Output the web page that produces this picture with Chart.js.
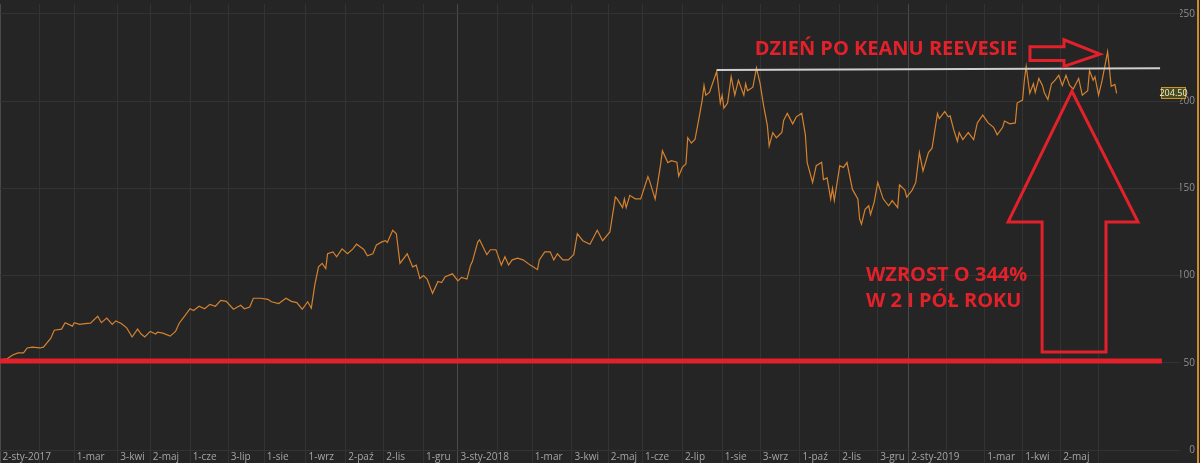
<!DOCTYPE html>
<html>
<head>
<meta charset="utf-8">
<title>CD Projekt</title>
<script src="https://cdn.jsdelivr.net/npm/chart.js@4.4.1/dist/chart.umd.min.js"></script>
<style>
  html, body { margin: 0; padding: 0; background: #252525; }
  #wrap { width: 1200px; height: 463px; position: relative; }
</style>
</head>
<body>
<div id="wrap"><canvas id="price"></canvas></div>
<script>
// trading day (index from 2-sty-2017) and close price
const days = [
  0, 4, 7, 10, 13, 15, 18, 22, 24, 28, 30, 34, 36, 38, 40, 41, 44, 47, 50, 54,
  56, 59, 62, 64, 67, 70, 73, 76, 78, 80, 83, 86, 87, 90, 94, 97, 99, 102, 105, 107,
  110, 113, 116, 119, 122, 125, 129, 133, 135, 138, 140, 144, 148, 150, 154, 158, 161, 164, 167, 170,
  172, 174, 176, 178, 180, 181, 184, 186, 189, 192, 195, 197, 199, 201, 203, 206, 208, 211, 213, 214,
  217, 219, 221, 225, 228, 230, 232, 234, 236, 239, 242, 244, 246, 250, 253, 255, 258, 260, 261, 264,
  265, 269, 271, 274, 275, 277, 279, 281, 283, 286, 289, 293, 297, 298, 301, 304, 306, 308, 311, 314,
  317, 319, 322, 326, 330, 333, 337, 340, 341, 344, 345, 346, 348, 351, 354, 358, 359, 362, 365, 366,
  369, 371, 374, 375, 377, 379, 380, 382, 384, 386, 388, 389, 390, 392, 394, 396, 398, 399, 400, 402,
  404, 406, 408, 411, 412, 413, 416, 418, 420, 422, 424, 425, 427, 429, 432, 433, 435, 438, 440, 443,
  445, 446, 449, 451, 454, 455, 457, 459, 460, 461, 464, 466, 468, 471, 474, 475, 476, 478, 480, 481,
  483, 485, 488, 491, 493, 496, 497, 500, 501, 504, 506, 508, 510, 513, 515, 518, 519, 522, 524, 525,
  527, 529, 530, 532, 535, 538, 540, 543, 546, 549, 551, 554, 555, 558, 561, 562, 565, 566, 567, 569,
  571, 572, 574, 576, 577, 579, 581, 583, 585, 587, 589, 591, 593, 596, 598, 601, 602, 604, 605, 607,
  609, 612, 614, 616, 617
];
const price = [
  51.7, 52.3, 54.5, 55.7, 55.7, 58.5, 59, 58.5, 59, 64, 68.7, 69.3, 73, 72, 71, 73, 72, 72.5, 72.7, 76.7,
  73, 75.6, 72, 74, 72.5, 70, 64.8, 69.3, 66.5, 64.8, 68, 66.5, 67.5, 67, 65.3, 68, 72.7, 76.7, 81, 80,
  82.4, 81, 83.5, 82.4, 85.8, 85.2, 80.7, 83, 81, 82, 87, 87, 86.4, 85, 84, 87, 85.2, 84.5, 80.7, 85,
  81.3, 95, 105, 107, 104, 112.5, 113.6, 110.8, 115.3, 112.5, 115.3, 118, 116.5, 115, 111.4, 112.5, 117.6, 119.3, 120, 119,
  126, 124, 107, 112.5, 105, 106, 98.3, 100, 98, 89.8, 96.6, 96, 99.4, 101, 97, 99, 98, 106, 108, 119.3,
  120.5, 112, 114.8, 114.8, 112, 106, 110.8, 106, 109, 110, 109, 106, 103.4, 109, 113.6, 113.6, 109, 112.5, 109, 109,
  112, 124, 120, 118, 126, 120, 125, 145, 144, 139, 144, 139, 146, 144, 144, 156.8, 154, 143.8, 163.6, 171.6,
  164.8, 165.9, 165, 157, 162, 164, 179, 176, 178, 189, 200.6, 209, 203.4, 205, 211, 217, 198.9, 203.4, 196, 198.9,
  214, 203.4, 212, 203.4, 210, 206, 208, 219, 210, 197, 186, 174.4, 182, 179, 182, 189, 193, 187, 191, 193,
  180.7, 164.8, 153.4, 163, 165, 155, 156, 143.8, 150, 143, 163, 162, 164.8, 149.4, 144, 132.4, 129.5, 138, 140, 135,
  142, 153.4, 144, 140, 143, 139, 152, 149, 145, 149, 153.4, 170.5, 160, 170.5, 173, 193, 190, 194, 191, 191.5,
  183.5, 177, 182, 178, 182, 178, 187.5, 192, 187.5, 185, 180.7, 185, 188.6, 187, 187.5, 198.9, 200.6, 212, 220, 204.5,
  210, 205, 213, 209, 205, 201, 210, 212, 214.8, 209, 214.8, 209, 207, 213, 203.4, 206, 217.6, 212, 214, 203.4,
  212, 228.4, 208.5, 209.6, 204.5
];

// month gridlines on the trading-day axis
const tickDays = [0, 22, 41, 65, 83, 105, 126, 146, 169, 191, 212, 234, 253, 275, 294, 316, 336, 355, 377, 399,
  420, 442, 464, 485, 502, 523, 544, 565, 586, 607];
const tickLabels = ['2-sty-2017', '', '1-mar', '3-kwi', '2-maj', '1-cze', '3-lip', '1-sie', '1-wrz', '2-paź',
  '2-lis', '1-gru', '3-sty-2018', '', '1-mar', '3-kwi', '2-maj', '1-cze', '2-lip', '1-sie',
  '3-wrz', '1-paź', '2-lis', '3-gru', '2-sty-2019', '', '1-mar', '1-kwi', '2-maj', ''];

const supportDays = [0, 642];
const support = [51, 51];
const topDays = [396, 641];
const topLine = [217.8, 218.8];

// hand-drawn notes, anchored in (trading day, price)
const notes = [
  { text: 'DZIEŃ PO KEANU REEVESIE', day: 417, value: 229.5 },
  { text: 'WZROST O 344%', day: 478.5, value: 100 },
  { text: 'W 2 I PÓŁ ROKU', day: 478.5, value: 85.2 }
];
const arrowRight = [[569.1, 231.25], [587.9, 231.25], [587.9, 235.2], [607.8, 227], [587.9, 219.9], [587.9, 223.3], [569.1, 223.3]];
const arrowUp = [[592.3, 205.7], [628.8, 130.7], [611.1, 130.7], [611.1, 56.25], [575.8, 56.25], [575.8, 130.7], [557, 130.7]];

const RED = '#e3212a';
const toXY = (xs, ys) => xs.map((x, i) => ({ x: x, y: ys[i] }));

const overlay = {
  id: 'overlay',
  beforeDraw(chart) {
    const c = chart.ctx;
    c.save();
    c.fillStyle = '#252525';
    c.fillRect(0, 0, chart.width, chart.height);
    c.restore();
  },
  afterDatasetsDraw(chart) {
    const c = chart.ctx;
    const xs = chart.scales.x, ys = chart.scales.y;
    const pt = p => [xs.getPixelForValue(p[0]), ys.getPixelForValue(p[1])];
    c.save();
    // arrows
    c.strokeStyle = RED;
    c.lineWidth = 3;
    c.lineJoin = 'miter';
    [arrowRight, arrowUp].forEach(shape => {
      c.beginPath();
      shape.forEach((p, i) => {
        const q = pt(p);
        if (i === 0) c.moveTo(q[0], q[1]); else c.lineTo(q[0], q[1]);
      });
      c.closePath();
      c.stroke();
    });
    // notes
    c.fillStyle = RED;
    c.font = 'bold 20px "Open Sans"';
    c.textAlign = 'left';
    c.textBaseline = 'middle';
    notes.forEach(n => {
      c.fillText(n.text, xs.getPixelForValue(n.day), ys.getPixelForValue(n.value));
    });
    // last price tag
    const last = price[price.length - 1];
    const yp = Math.round(ys.getPixelForValue(last));
    const left = chart.chartArea.right - 19, w = 25, h = 12;
    c.fillStyle = '#4b4a1d';
    c.fillRect(left, yp - h / 2, w, h);
    c.strokeStyle = '#c7942f';
    c.lineWidth = 1;
    c.strokeRect(left + 0.5, yp - h / 2 + 0.5, w - 1, h - 1);
    c.fillStyle = '#f1f1d2';
    c.font = '9px "Open Sans"';
    c.textAlign = 'center';
    c.fillText(last.toFixed(2), left + w / 2, yp + 0.5);
    // orange frame on the right
    c.fillStyle = '#d08a2c';
    c.fillRect(1197, 0, 2, chart.height);
    c.restore();
  }
};

const isYear = i => /20\d\d/.test(tickLabels[i] || '');

new Chart(document.getElementById('price'), {
  type: 'line',
  data: {
    datasets: [
      { data: toXY(supportDays, support), borderColor: RED, borderWidth: 5, pointRadius: 0 },
      { data: toXY(topDays, topLine), borderColor: '#cfcfcf', borderWidth: 2, pointRadius: 0 },
      { data: toXY(days, price), borderColor: '#d4822f', borderWidth: 1.2, pointRadius: 0, tension: 0 }
    ]
  },
  options: {
    responsive: true,
    maintainAspectRatio: false,
    animation: false,
    layout: { padding: { right: 5 } },
    plugins: { legend: { display: false }, tooltip: { enabled: false } },
    scales: {
      x: {
        type: 'linear',
        min: 0,
        max: 652,
        afterBuildTicks: s => { s.ticks = tickDays.map(v => ({ value: v })); },
        afterFit: s => { s.height = 13; },
        border: { display: false },
        grid: {
          color: ctx => isYear(ctx.index) ? '#4a4a4a' : '#333333',
          tickColor: ctx => isYear(ctx.index) ? '#4a4a4a' : '#333333',
          tickLength: 13,
          drawTicks: true
        },
        ticks: {
          autoSkip: false,
          maxRotation: 0,
          align: 'start',
          padding: -12,
          color: '#a5a5a5',
          font: { family: '"Open Sans"', size: 10 },
          callback: (v, i) => tickLabels[i] ? ' ' + tickLabels[i] : ''
        }
      },
      y: {
        position: 'right',
        min: 0,
        max: 255.7,
        afterFit: s => { s.width = 15; },
        border: { display: false },
        grid: { color: '#333333', drawTicks: false },
        ticks: {
          stepSize: 50,
          includeBounds: false,
          crossAlign: 'far',
          padding: -2,
          color: '#8f8f8f',
          font: { family: '"Open Sans"', size: 10 }
        }
      }
    }
  },
  plugins: [overlay]
});
</script>
</body>
</html>
